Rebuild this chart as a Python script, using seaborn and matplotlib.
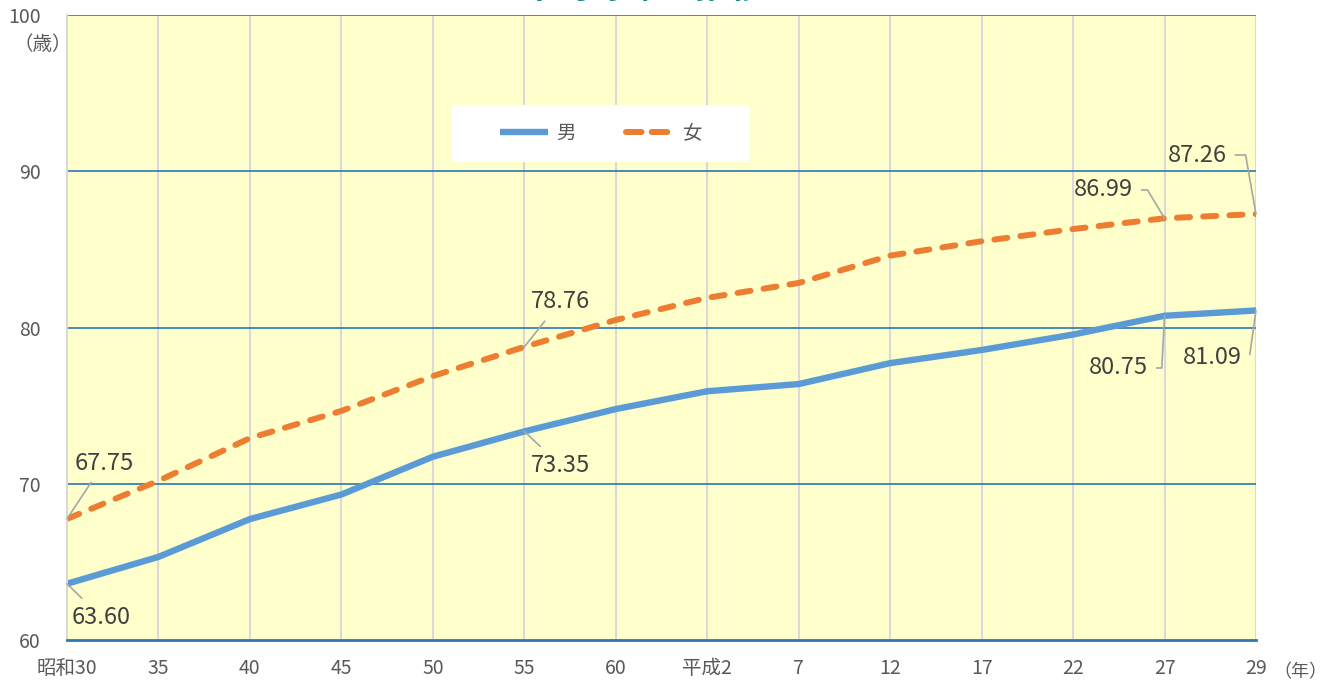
import matplotlib
matplotlib.use("Agg")
import matplotlib.pyplot as plt
from matplotlib.patches import Rectangle
import seaborn as sns
import pandas as pd

sns.set_theme(style="white")
plt.rcParams['font.family'] = ['Noto Sans CJK JP', 'DejaVu Sans']

years = ["昭和30", "35", "40", "45", "50", "55", "60", "平成2", "7", "12", "17", "22", "27", "29"]
male = [63.60, 65.32, 67.74, 69.31, 71.73, 73.35, 74.78, 75.92, 76.38, 77.72, 78.56, 79.55, 80.75, 81.09]
female = [67.75, 70.19, 72.92, 74.66, 76.89, 78.76, 80.48, 81.90, 82.85, 84.60, 85.52, 86.30, 86.99, 87.26]
series_names = ["男", "女"]
title_text = "平均寿命の推移"

df = pd.DataFrame({
    "x": list(range(len(years))) * 2,
    "value": male + female,
    "sex": [series_names[0]] * len(years) + [series_names[1]] * len(years),
})

W, H = 1333, 682
fig = plt.figure(figsize=(W / 100, H / 100), dpi=100)
ax = fig.add_axes([67 / W, (H - 640) / H, (1256 - 67) / W, (640 - 15) / H])
ax.set_facecolor("#FFFFCC")

blue = "#5B9BD5"
orange = "#ED7D31"

sns.lineplot(data=df[df.sex == "男"], x="x", y="value", ax=ax, color=blue,
             linewidth=4.6, label="男", solid_capstyle="butt")
sns.lineplot(data=df[df.sex == "女"], x="x", y="value", ax=ax, color=orange,
             linewidth=4.3, label="女", dashes=False)
ax.lines[1].set_dashes([2.2, 2.2])
ax.lines[1].set_dash_capstyle("round")

ax.set_xlim(0, len(years) - 1)
ax.set_ylim(60, 100)
ax.set_xticks(range(len(years)))
ax.set_xticklabels(years)
ax.set_yticks([60, 70, 80, 90, 100])
ax.set_xlabel("")
ax.set_ylabel("")

for y in [70, 80, 90, 100]:
    ax.axhline(y, color="#2E75B6", linewidth=1.2, zorder=1)
for i in range(1, len(years)):
    ax.axvline(i, color="#D9D9D9", linewidth=1.5, zorder=0.5)

for s in ["top", "right"]:
    ax.spines[s].set_visible(False)
ax.spines["left"].set_color("#D9D9D9")
ax.spines["left"].set_linewidth(1.5)
ax.spines["bottom"].set_color("#2E75B6")
ax.spines["bottom"].set_linewidth(2.0)

ax.tick_params(axis="x", length=0, pad=13, labelsize=14, labelcolor="#595959")
ax.tick_params(axis="y", length=0, pad=19, labelsize=14, labelcolor="#595959")

fig.text(43 / W, 1 - 44 / H, "（歳）", ha="center", va="center", fontsize=14, color="#595959")
fig.text(1300 / W, 1 - 672 / H, "（年）", ha="center", va="center", fontsize=13, color="#595959")

# title partially cut off at the top, as in the reference
fig.text(643 / W, 1 + 13 / H, title_text, ha="center", va="center", fontsize=25,
         color="#1A8C8C", fontweight="bold")

# legend box
ax.add_patch(Rectangle((452 / W, 1 - 162 / H), 297 / W, 57 / H, transform=fig.transFigure,
                       facecolor="white", edgecolor="none", zorder=3, clip_on=False))
leg = ax.legend(loc="center", bbox_to_anchor=(0.449, 0.811), ncol=2, frameon=False,
                handlelength=2.5, columnspacing=2.6, borderpad=0.5,
                fontsize=14, handletextpad=0.4)
leg.set_zorder(4)
for t in leg.get_texts():
    t.set_color("#595959")
leg.get_lines()[1].set_dashes([2.6, 1.7])
leg.get_lines()[1].set_dash_capstyle("round")

lab_col = "#404040"
lc = "#A6A6A6"

def yv(py):
    return 60 + (640 - py) / 625 * 40

def xv(px):
    return (px - 67) / ((1256 - 67) / 13)

ann = [
    (0, female[0], xv(104), yv(463), "arc3"),
    (0, male[0], xv(101), yv(617), "arc3"),
    (5, female[5], xv(560), yv(302), "arc3"),
    (5, male[5], xv(560), yv(465), "arc3"),
    (12, female[12], xv(1103), yv(190), "angle,angleA=0,angleB=121,rad=0"),
    (13, female[13], xv(1197), yv(155), "angle,angleA=0,angleB=100,rad=0"),
    (12, male[12], xv(1118), yv(368), "angle,angleA=0,angleB=-93,rad=0"),
    (13, male[13], xv(1212), yv(357), "angle,angleA=0,angleB=-98,rad=0"),
]
for xi, val, tx, ty, cs in ann:
    ax.annotate(f"{val:.2f}", xy=(xi, val), xytext=(tx, ty), ha="center", va="center",
                fontsize=17, color=lab_col, annotation_clip=False,
                arrowprops=dict(arrowstyle="-", color=lc, lw=1.2, shrinkA=4, shrinkB=0,
                                connectionstyle=cs))

fig.savefig("out.png", dpi=100, facecolor="white")
